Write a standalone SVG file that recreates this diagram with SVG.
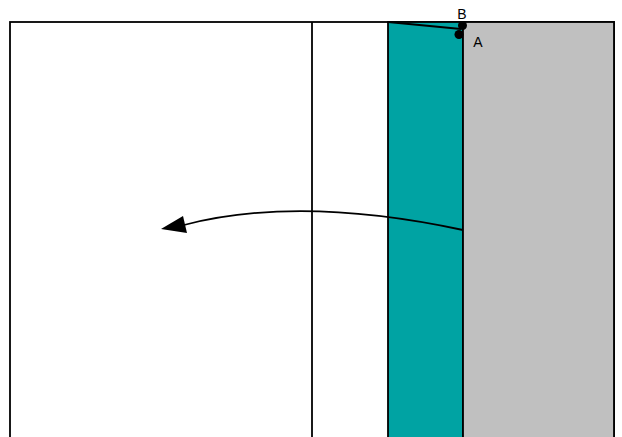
<svg xmlns="http://www.w3.org/2000/svg" width="622" height="437" viewBox="0 0 622 437">
<style>
.ln{stroke:#000;stroke-width:1.8;fill:none}
.lbl{font-family:"Liberation Sans",Arial,sans-serif;font-size:14px;fill:#000}
</style>
<rect width="622" height="437" fill="#fff"/>
<g id="outer"><rect x="10" y="22" width="604" height="430" class="ln"/></g>
<g id="middle"><line x1="312" y1="22" x2="312" y2="440" class="ln"/></g>
<g id="teal"><rect x="388" y="22" width="75" height="430" class="ln" style="fill:#00a3a3"/></g>
<g id="gray"><rect x="463" y="22" width="151" height="430" class="ln" style="fill:#c0c0c0"/></g>
<g id="connectors">
<line x1="388" y1="22" x2="461" y2="29" class="ln"/>
<path d="M463,230 Q299,195 184,225" class="ln"/>
<polygon points="161,229 183,216 187,233" fill="#000"/>
</g>
<g id="pointB"><circle cx="462.5" cy="25.5" r="4.5" fill="#000"/><text x="462" y="19" text-anchor="middle" class="lbl">B</text></g>
<g id="pointA"><circle cx="459" cy="34.5" r="4.5" fill="#000"/><text x="478" y="47" text-anchor="middle" class="lbl">A</text></g>
</svg>
